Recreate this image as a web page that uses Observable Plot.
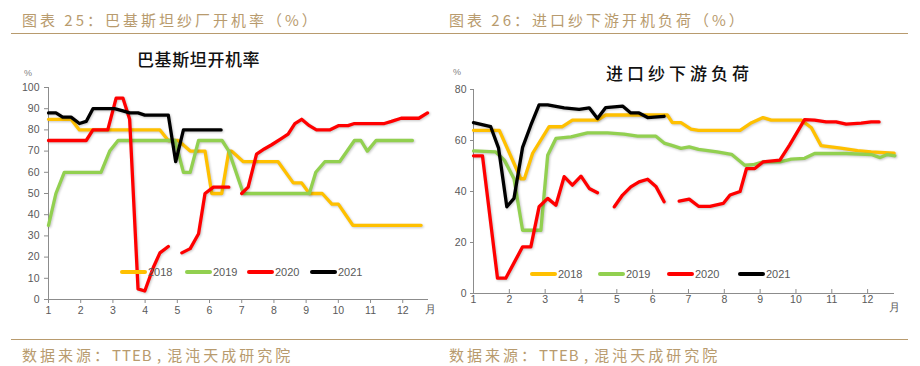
<!DOCTYPE html>
<html>
<head>
<meta charset="utf-8">
<script src="https://cdn.jsdelivr.net/npm/d3@7"></script>
<script src="https://cdn.jsdelivr.net/npm/@observablehq/plot@0.6"></script>
<style>
  html, body { margin:0; padding:0; background:#fff; }
  body { width:920px; height:366px; position:relative; overflow:hidden;
         font-family:"Noto Sans CJK SC","Noto Sans",sans-serif; }
  .abs { position:absolute; white-space:nowrap; }
  .hdr { font-size:15px; line-height:20px; color:#B89B6E; letter-spacing:3px; }
  .lat { letter-spacing:1px; margin-right:5px; }
  .rule { position:absolute; left:11px; width:897px; height:1.5px; background:#B89B6E; }
  .ttl { font-size:17px; line-height:22px; color:#111; font-weight:500; }
  .pct { font-size:9px; line-height:10px; color:#7f7f7f; font-family:"Liberation Sans",Arial,sans-serif; }
  .leg { font-size:11px; line-height:12px; color:#595959; font-family:"Liberation Sans",Arial,sans-serif; }
  .sw { position:absolute; height:4px; border-radius:2px; }
  g[aria-label="line"] path { filter: drop-shadow(1px 1.5px 0.8px rgba(0,0,0,0.22)); }
</style>
</head>
<body>
<div class="abs hdr" style="left:22px;top:10px">图表 25：巴基斯坦纱厂开机率（%）</div>
<div class="abs hdr" style="left:449px;top:10px">图表 26：进口纱下游开机负荷（%）</div>
<div class="rule" style="top:32.5px"></div>
<div class="rule" style="top:338.5px"></div>
<div class="abs hdr" style="left:22px;top:345px">数据来源：<span class="lat">TTEB ,</span>混沌天成研究院</div>
<div class="abs hdr" style="left:449px;top:345px">数据来源：<span class="lat">TTEB ,</span>混沌天成研究院</div>

<div id="left" class="abs" style="left:0;top:40px"></div>
<div id="right" class="abs" style="left:440px;top:40px"></div>

<div class="abs ttl" style="left:137px;top:48px;letter-spacing:0.6px">巴基斯坦开机率</div>
<div class="abs ttl" style="left:606px;top:62px;letter-spacing:4px">进口纱下游负荷</div>
<div class="abs pct" style="left:24px;top:68px">%</div>
<div class="abs pct" style="left:453px;top:67px">%</div>

<script>
// ---------- data ----------
const seriesNames = ["2018", "2019", "2020", "2021"];
const seriesColors = ["#FFC000", "#92D050", "#FF0000", "#000000"];
const months = [1,2,3,4,5,6,7,8,9,10,11,12];
const yTicksLeft = [0,10,20,30,40,50,60,70,80,90,100];
const yTicksRight = [0,20,40,60,80];

// 巴基斯坦开机率 (x = month position, y = %)
const pk2018 = [[1,85],[1.7,85],[1.96,80],[4.46,80],[4.72,75],[5.03,75],[5.4,70],[5.86,70],[6.07,50],[6.38,50],[6.6,70],[6.69,70],[7.05,65],[8.13,65],[8.6,55],[8.86,55],[9.1,50],[9.5,50],[9.8,45],[10.0,45],[10.45,35],[12.57,35]];
const pk2019 = [[1,35],[1.23,50],[1.49,60],[2.63,60],[2.9,70],[3.16,75],[4.93,75],[5.19,60],[5.4,60],[5.66,75],[6.39,75],[6.6,70],[7.05,50],[9.1,50],[9.3,60],[9.58,65],[10.04,65],[10.5,75],[10.7,75],[10.9,70],[11.17,75],[12.3,75]];
const pk2020 = [[1,75],[2.17,75],[2.38,80],[2.84,80],[3.1,95],[3.31,95],[3.52,85],[3.78,5],[3.99,4],[4.25,15],[4.46,22],[4.72,25],[4.93,null],[5.14,22],[5.4,24],[5.66,31],[5.86,50],[6.12,53],[6.6,53],[6.8,null],[7.0,50],[7.2,53],[7.46,68.6],[7.7,71],[7.93,73],[8.24,76],[8.44,78],[8.65,83],[8.86,85],[9.1,82],[9.32,80],[9.73,80],[10.0,82],[10.3,82],[10.5,83],[11.43,83],[11.65,84],[11.95,85.5],[12.5,85.5],[12.77,88]];
const pk2021 = [[1,88],[1.23,88],[1.44,86],[1.7,86],[1.96,83],[2.17,84],[2.38,90],[3.05,90],[3.31,89],[3.52,88],[3.78,88],[3.99,87],[4.72,87],[4.95,65],[5.19,80],[6.36,80]];

// 进口纱下游负荷
const ds2018 = [[1,64],[1.72,64],[2.32,45],[2.42,45],[2.65,55],[3.11,65.4],[3.48,65.4],[3.76,68],[4.46,68],[4.69,70],[6.41,70],[6.55,67],[6.79,67],[7.07,64.5],[7.28,64],[8.44,64],[8.76,67],[9.08,69],[9.31,68],[10.15,68],[10.43,65],[10.7,58],[11.25,57],[11.72,56],[12.1,55.5],[12.74,55]];
const ds2019 = [[1,55.9],[1.62,55.5],[1.86,52.3],[2.13,45],[2.37,24.8],[2.88,24.8],[3.07,54.2],[3.3,60.8],[3.72,61.4],[4.18,63],[4.74,63],[5.2,62.5],[5.58,61.7],[6.09,61.7],[6.32,59],[6.51,58.2],[6.79,56.9],[7.02,57.5],[7.28,56.5],[7.8,55.5],[8.2,54.6],[8.57,50.3],[8.8,50.5],[9.08,51.6],[9.55,51.6],[9.87,52.7],[10.24,53],[10.52,54.9],[11.4,54.9],[12.1,54.5],[12.35,53.3],[12.55,54.5],[12.76,54]];
const ds2020 = [[1,54],[1.25,54],[1.67,6],[1.9,6],[2.13,12],[2.37,18.3],[2.6,18.3],[2.83,34],[3.07,37.3],[3.3,34.6],[3.53,45.8],[3.76,42.5],[4.0,46],[4.23,41.2],[4.46,39.5],[4.7,null],[4.93,34],[5.16,38.6],[5.39,41.8],[5.62,43.8],[5.86,44.8],[6.09,42],[6.32,36],[6.5,null],[6.74,36.2],[7.02,37],[7.28,34.2],[7.6,34.2],[7.97,35.3],[8.16,38.6],[8.44,40],[8.62,49],[8.85,49],[9.08,51.6],[9.55,52.3],[9.82,58.2],[10.24,68.2],[10.52,68],[10.84,67.3],[11.12,67.3],[11.4,66.4],[11.82,66.8],[12.1,67.3],[12.32,67.3]];
const ds2021 = [[1,67],[1.48,65.4],[1.7,57],[1.93,34],[2.13,37.3],[2.37,57.3],[2.6,66],[2.83,74],[3.07,74],[3.53,72.8],[3.95,72.2],[4.23,72.8],[4.46,68.6],[4.69,72.9],[5.16,73.5],[5.39,70.8],[5.62,70.8],[5.86,69],[6.32,69.5]];

// ---------- helpers ----------
const toRows = (arr) => arr.map(([x, y]) => ({x, y}));
const axisColor = "#8c8c8c";
const textColor = "#595959";
const font = '"Liberation Sans", Arial, sans-serif';

function lineMarks(list) {
  return list.map((arr, i) => Plot.line(toRows(arr), {
    x: "x", y: "y", stroke: seriesColors[i], strokeWidth: 3.3,
    strokeLinejoin: "round", strokeLinecap: "round", curve: "linear"
  }));
}

// ---------- left chart ----------
const leftH = 290;
const left = Plot.plot({
  width: 440, height: leftH,
  marginLeft: 48, marginRight: 12, marginTop: 47, marginBottom: 31,
  x: {domain: [1, 12.8]},
  y: {domain: [0, 100]},
  style: {fontSize: "10.5px", fontFamily: font, color: textColor, background: "transparent", overflow: "visible"},
  marks: [
    Plot.axisY({ticks: yTicksLeft, tickSize: 4, tickPadding: 5, label: null, stroke: axisColor, color: textColor}),
    Plot.axisX({ticks: months, tickSize: 4, tickPadding: 3, label: null, stroke: axisColor, color: textColor, tickFormat: d => String(d)}),
    Plot.ruleX([1], {stroke: axisColor}),
    Plot.ruleY([0], {stroke: axisColor}),
    ...lineMarks([pk2018, pk2019, pk2020, pk2021])
  ]
});
document.getElementById("left").appendChild(left);

// ---------- right chart ----------
const rTop = 49, rBottom = 37, rH = 290;
const right = Plot.plot({
  width: 480, height: rH,
  marginLeft: 33, marginRight: 26, marginTop: rTop, marginBottom: rBottom,
  x: {domain: [1, 12.75]},
  y: {domain: [0, 80]},
  style: {fontSize: "10.5px", fontFamily: font, color: textColor, background: "transparent", overflow: "visible"},
  marks: [
    Plot.axisY({ticks: yTicksRight, tickSize: 3, tickPadding: 4, label: null, stroke: axisColor, color: textColor}),
    Plot.axisX({ticks: months, tickSize: 0, tickPadding: 2, label: null, color: textColor, tickFormat: d => String(d)}),
    Plot.ruleX(months, {stroke: axisColor, insetTop: rH - rTop - rBottom - 4}),
    Plot.ruleX([1], {stroke: axisColor}),
    Plot.ruleY([0], {stroke: axisColor}),
    ...lineMarks([ds2018, ds2019, ds2020, ds2021])
  ]
});
document.getElementById("right").appendChild(right);

function addText(cls, text, x, y) {
  const d = document.createElement("div");
  d.className = "abs " + cls;
  d.style.left = x + "px"; d.style.top = y + "px";
  d.textContent = text;
  document.body.appendChild(d);
}
// month unit labels
addText("leg", "月", 425, 303);
addText("leg", "月", 889, 301);

// legends (HTML)
function legend(startXs, y) {
  seriesNames.forEach((name, i) => {
    const sw = document.createElement("div");
    sw.className = "sw";
    sw.style.left = startXs[i] + "px";
    sw.style.width = "27px";
    sw.style.top = (y - 2) + "px";
    sw.style.background = seriesColors[i];
    document.body.appendChild(sw);
    addText("leg", name, startXs[i] + 28, y - 6);
  });
}
legend([120, 185, 247, 310], 272);
legend([530, 598, 667, 738], 274);
</script>
</body>
</html>
